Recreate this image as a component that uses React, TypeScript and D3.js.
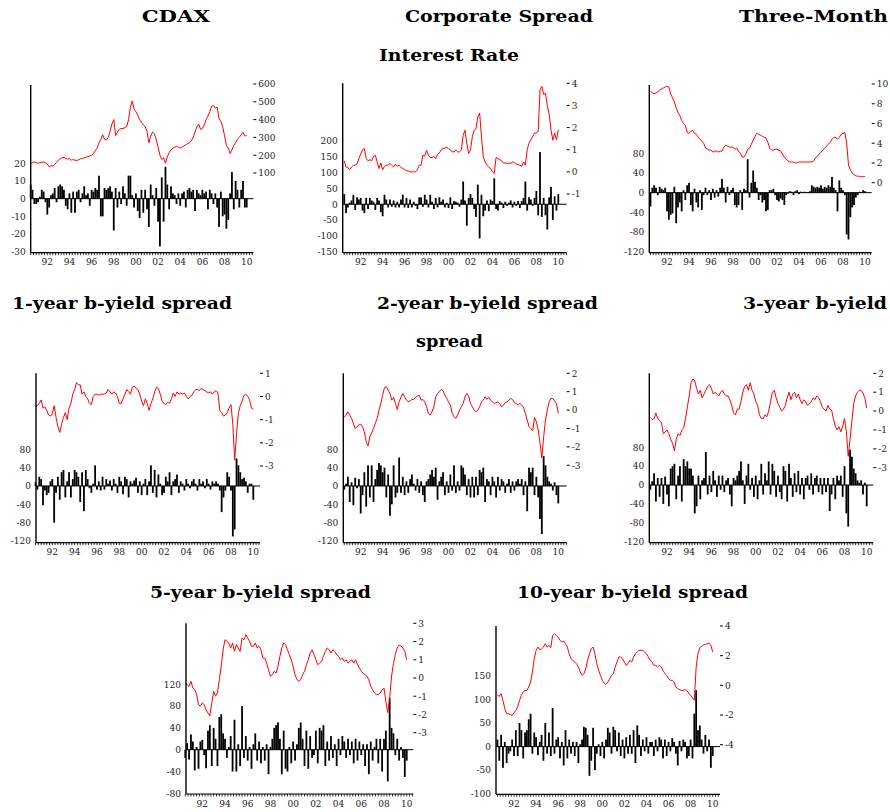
import React from "react";
import * as d3 from "d3";

// time axis: bi-monthly observations starting January 1991
const START_YEAR = 1991;
const OBS_PER_YEAR = 6;
const yearLabels = [1992, 1994, 1996, 1998, 2000, 2002, 2004, 2006, 2008, 2010];

// ---------- CDAX ----------
const cdaxLine = [
  150, 160, 162, 158, 155, 158,
  160, 162, 158, 150, 135, 140,
  140, 148, 160, 172, 180, 185,
  188, 182, 178, 180, 172, 175,
  172, 170, 175, 180, 182, 185,
  188, 192, 195, 200, 210, 225,
  240, 270, 290, 315, 290, 285,
  300, 335, 375, 400, 310, 330,
  345, 350, 350, 355, 360, 400,
  470, 505, 460, 445, 425, 400,
  385, 370, 360, 335, 270, 305,
  330, 320, 290, 245, 200, 175,
  185, 155, 190, 215, 230, 240,
  245, 250, 245, 240, 245, 252,
  258, 265, 270, 280, 300, 330,
  360, 375, 345, 350, 370, 400,
  420, 445, 475, 480, 465, 470,
  405, 390, 360, 310, 255, 240,
  210, 230, 255, 270, 290, 300,
  315, 328, 308, 310,
];
const cdaxBars = [
  8, 5, -3, -3, -2, 1,
  5, 4, -2, -9, -5, 2,
  3, 6, -2, 7, 8, 7,
  5, -4, -6, 3, -8, 4,
  -8, 4, 5, -2, 3, 7,
  2, 3, -4, 5, 4, 6,
  5, 13, -10, -10, 6, 5,
  6, 7, 4, -18, 6, -5,
  4, -3, 7, 3, -4, 13,
  13, 2, -5, 3, -7, -11,
  5, -8, 5, -6, -16, 8,
  2, -4, 6, -13, -27, 12,
  -13, 18, 8, -6, 7, 3,
  2, -3, 3, -4, 3, 4,
  -5, 5, 6, 4, 5, -7,
  5, 3, 2, 5, 3, 4,
  -6, 5, 3, -3, 3, -5,
  -16, 4, -10, -9, -17, -12,
  3, 15, -6, 10, 5, -5,
  5, 10, -5, -5,
];
const cdaxLeftTicks = [-30, -20, -10, 0, 10, 20];
const cdaxRightTicks = [100, 200, 300, 400, 500, 600];

// ---------- Corporate spread ----------
const corpLine = [
  0.5, 0.22, 0.2, 0.1, 0.22, 0.3,
  0.3, 0.35, 0.6, 0.8, 1.0, 1.05,
  0.6, 0.5, 0.55, 0.5, 0.7, 0.75,
  0.45, 0.15, 0.4, 0.1, 0.25, 0.3,
  0.3, 0.38, 0.3, 0.22, 0.35, 0.25,
  0.3, 0.2, 0.15, 0.1, 0.05, 0.05,
  0.0, 0.0, 0.0, 0.0, 0.1, 0.3,
  0.3, 0.75, 0.7, 0.98, 0.75, 0.65,
  0.65, 0.7, 0.6, 0.8, 0.85, 1.0,
  1.05, 1.08, 1.1, 1.05, 1.0, 0.9,
  0.9, 0.98, 0.9, 0.9, 0.98, 1.65,
  1.88, 1.28, 0.83, 0.98, 1.58, 1.88,
  1.95, 2.48, 2.66, 1.58, 0.68, 0.45,
  0.3, 0.22, 0.15, 0.0, -0.08, 0.65,
  0.6, 0.55, 0.5, 0.4, 0.4, 0.38,
  0.4, 0.38, 0.45, 0.42, 0.35, 0.33,
  0.3, 0.25, 0.45, 0.3, 1.0, 1.3,
  1.45, 1.6, 1.75, 1.75, 1.85, 3.7,
  3.86, 3.5, 3.55, 3.0, 2.6, 1.9,
  1.43, 1.75, 1.45, 1.9,
];
const corpBars = [
  32, -28, -10, 5, 12, 30,
  -18, 22, 15, 20, -20, -28,
  20, -15, 20, 12, 8, -18,
  20, 12, -25, -38, 30, 15,
  -10, 15, -8, 12, -10, 8,
  -10, 15, 30, -10, 20, -12,
  15, -10, 8, -5, -15, 22,
  22, -8, 30, 15, -10, 30,
  8, -15, 20, -10, 22, 8,
  15, -10, 5, -12, 22, -15,
  10, 8, 5, -8, 15, 72,
  12, -68, 20, 32, 20, -15,
  -40, 62, -108, 30, -38, -20,
  12, -22, 15, 10, 82, -15,
  -20, 10, 5, -12, 8, -5,
  5, 12, -10, 8, -5, 10,
  -12, 10, 20, 72, -20, 22,
  15, -5, 20, 42, -35, 165,
  -40, 20, -35, -80, 22, 55,
  -50, 25, -20, 32,
];
const corpLeftTicks = [-150, -100, -50, 0, 50, 100, 150, 200];
const corpRightTicks = [-1, 0, 1, 2, 3, 4];

// ---------- Three-month interest rate ----------
const tmLine = [
  9.3, 9.1, 9.0, 9.1, 9.2, 9.4,
  9.5, 9.6, 9.7, 9.8, 9.7, 9.0,
  8.6, 8.2, 7.6, 7.1, 6.8, 6.3,
  6.0, 5.8, 5.1, 5.0, 5.2, 5.3,
  5.0, 4.9, 4.6, 4.4, 4.2, 4.0,
  3.5, 3.4, 3.3, 3.3, 3.1, 3.2,
  3.2, 3.1, 3.2, 3.2, 3.6, 3.8,
  3.7, 3.6, 3.6, 3.6, 3.4, 3.5,
  3.2, 3.0, 2.6, 2.6, 2.9, 3.4,
  3.5, 3.9, 4.3, 4.7, 5.0, 4.9,
  4.8, 4.7, 4.6, 4.5, 4.1, 3.5,
  3.3, 3.3, 3.4, 3.4, 3.3, 3.2,
  2.9, 2.6, 2.4, 2.2, 2.1, 2.1,
  2.1, 2.0, 2.0, 2.1, 2.1, 2.1,
  2.1, 2.1, 2.1, 2.1, 2.1, 2.2,
  2.5, 2.7, 2.9, 3.1, 3.3, 3.5,
  3.7, 3.9, 4.1, 4.4, 4.6, 4.6,
  4.4, 4.6, 4.9, 5.0, 5.1, 4.0,
  1.8, 1.3, 1.0, 0.8, 0.7, 0.65,
  0.65, 0.6, 0.6, 0.65,
];
const tmBars = [
  -28, 10, 15, 10, -5, 12,
  8, 5, 10, -38, -55, -45,
  -42, 12, -62, -30, -20, -38,
  5, -15, 15, 20, -25, -38,
  8, -20, -30, 5, -35, -5,
  10, -5, 5, -15, 8, -10,
  5, -8, 10, 28, 10, -20,
  12, -5, 5, 10, -25, -30,
  -25, 5, -35, 8, 5, 68,
  -10, 20, 45, 22, 10, -15,
  -5, -20, -15, -38, -35, 5,
  5, 8, -5, -15, -18, -12,
  -15, -25, -5, -2, 3, 2,
  -5, 3, 5, -3, 2, 1,
  2, 1, -1, 3, 15, 12,
  10, 12, 10, 15, 8, 12,
  10, 15, 12, 32, 10, 5,
  -38, 25, 10, 5, -5, -85,
  -95, -50, -30, -25, -10, -5,
  2, 1, 5, 3,
];
const tmLeftTicks = [-120, -80, -40, 0, 40, 80];
const tmRightTicks = [0, 2, 4, 6, 8, 10];

// ---------- 1-year b-yield spread ----------
const y1Line = [
  -0.4, -0.4, -0.3, -0.15, -0.5, -0.45,
  -0.6, -0.8, -0.85, -0.75, -0.4, -0.9,
  -1.3, -1.55, -1.2, -0.9, -0.7, -1.0,
  -0.5, -0.3, 0.1, 0.3, 0.6, 0.5,
  0.5, 0.1, 0.2, 0.0, -0.1, -0.3,
  -0.35, 0.0, 0.1, 0.1, 0.05, 0.1,
  0.1, 0.1, 0.15, 0.3, 0.2, 0.1,
  0.2, 0.15, 0.0, -0.3, -0.3, -0.1,
  0.1, 0.3, 0.2, 0.1, 0.4, 0.45,
  0.35, 0.3, 0.1, -0.2, -0.4, -0.1,
  -0.3, -0.6, -0.3, -0.1, 0.2, 0.4,
  0.35, 0.1, -0.2, -0.3, -0.35, -0.25,
  -0.3, -0.1, 0.15, 0.0, 0.2, 0.1,
  0.15, 0.1, 0.15, 0.0, -0.1, 0.0,
  0.05, 0.2, 0.3, 0.3, 0.25, 0.35,
  0.3, 0.25, 0.2, 0.15, 0.2, 0.1,
  0.2, 0.25, 0.15, -0.6, -0.7, -0.85,
  -0.8, -0.7, -0.5, -0.35, -1.2, -2.75,
  -1.6, -0.7, -0.4, -0.2, 0.05, 0.1,
  0.0, -0.15, -0.5, -0.55,
];
const y1Bars = [
  8, -8, 20, 15, -42, -10,
  -20, -15, 10, 15, -80, -15,
  20, -30, 30, 35, -25, 10,
  30, -25, 15, 35, 30, 20,
  -35, 30, -55, 35, 15, -5,
  -15, 5, 45, -8, 10, -10,
  20, -8, 15, 5, 12, -10,
  15, 5, -15, 20, 10, -18,
  20, 15, -25, 10, 5, 12,
  18, -15, 10, -20, 5, 15,
  -20, 10, 45, -15, 35, -25,
  25, 5, -20, -15, 20, 10,
  30, -20, 10, 15, 25, -15,
  10, 5, -10, 15, 5, -5,
  10, 15, 5, -10, 15, 5,
  10, -5, 15, 5, -8, 10,
  5, 10, 5, -10, -57, -25,
  -10, 30, 20, -10, -110, -95,
  60, 45, 30, 15, 18, 10,
  -15, 5, 5, -30,
];
const y1LeftTicks = [-120, -80, -40, 0, 40, 80];
const y1RightTicks = [-3, -2, -1, 0, 1];

// ---------- 2-year b-yield spread ----------
const y2Line = [
  -0.4, -0.27, -0.09, -0.27, -0.45, -0.72,
  -1.0, -0.9, -0.81, -0.76, -0.9, -1.18,
  -1.72, -1.95, -1.45, -1.23, -1.0, -0.72,
  -0.45, 0, 0.36, 0.81, 1.23, 1.27,
  1.08, 0.9, 0.54, 0.69, 0.36, 0.04,
  0.45, 0.69, 0.9, 0.72, 0.54, 0.45,
  0.5, 0.58, 0.58, 0.69, 0.76, 0.81,
  0.54, 0.58, 0.45, 0.18, -0.18, -0.27,
  -0.09, 0.18, 0.72, 0.9, 1.0, 1.12,
  1.05, 0.81, 0.63, 0.45, 0.27, -0.18,
  -0.36, -0.45, -0.27, 0, 0.18, 0.36,
  0.72, 0.9, 0.76, 0.36, 0.18, 0,
  -0.09, 0, 0.18, 0.45, 0.54, 0.72,
  0.58, 0.69, 0.54, 0.45, 0.36, 0.4,
  0.45, 0.36, 0.18, 0.27, 0.4, 0.45,
  0.54, 0.63, 0.58, 0.4, 0.36, 0.27,
  0.36, 0.27, 0.14, -0.18, -0.54, -0.9,
  -1.0, -1.12, -0.4, -0.63, -1.08, -1.8,
  -2.6, -1.45, -0.54, 0, 0.45, 0.63,
  0.63, 0.5, 0.36, -0.18,
];
const y2Bars = [
  -8, 5, 20, -35, 8, -42,
  18, -5, 15, -60, -20, 30,
  -45, 45, -25, 45, -35, 15,
  35, 50, 45, 30, 40, -25,
  25, -65, -40, 45, -25, -15,
  62, -15, 20, -20, 10, -15,
  15, 25, 5, -10, 15, -15,
  10, -20, -35, 10, 15, 25,
  35, 20, 40, -30, 10, 20,
  30, -20, 10, -15, 25, -10,
  45, -15, 10, -10, 45, 40,
  25, -20, 15, -25, 20, -25,
  20, -20, 35, 30, 40, -35,
  15, 10, -20, 20, 10, -25,
  20, -10, 15, 10, -15, 5,
  15, -15, 10, -10, 10, 15,
  5, 15, -20, 10, -55, 40,
  30, 40, -20, 20, -25, -72,
  -105, 65, 45, 20, 10, 5,
  -10, 8, -20, -38,
];
const y2LeftTicks = [-120, -80, -40, 0, 40, 80];
const y2RightTicks = [-3, -2, -1, 0, 1, 2];

// ---------- 3-year b-yield spread ----------
const y3Line = [
  -0.35, -0.45, -0.4, -0.1, -0.4, -0.5,
  -0.6, -1.2, -1.1, -1.0, -1.2, -1.5,
  -1.7, -2.1, -1.5, -1.2, -1.3, -1.0,
  -0.9, -0.4, 0.2, 0.8, 1.5, 1.7,
  1.6, 1.2, 0.9, 1.1, 0.7, 0.9,
  1.1, 1.3, 1.4, 1.2, 0.9, 1.0,
  0.9, 0.8, 1.0, 1.1, 0.9, 0.8,
  0.8, 0.6, 0.3, -0.1, -0.2, 0.1,
  0.1, 0.5, 1.0, 1.3, 1.4, 1.1,
  1.5, 1.1, 0.9, 0.5, 0.3, -0.2,
  -0.4, -0.4, -0.2, -0.3, 0.0, 0.5,
  1.0, 1.1, 0.7, 0.4, 0.2, 0.0,
  0.1, 0.3, 0.7, 1.0, 0.6, 0.9,
  1.0, 0.7, 0.9, 0.6, 0.4, 0.6,
  0.5, 0.3, 0.4, 0.5, 0.7, 0.6,
  0.8, 0.7, 0.5, 0.2, 0.1, 0.0,
  0.3, 0.1, 0.05, -0.4, -0.8, -1.0,
  -0.83, -1.1, -0.8, -0.4, -1.1, -2.4,
  -1.5, -0.5, 0.4, 0.8, 1.0, 1.1,
  1.1, 0.95, 0.7, 0.15,
];
const y3Bars = [
  -10, 8, 25, -35, 15, -25,
  15, -40, 18, -20, -45, 35,
  40, 45, -30, 20, 40, -35,
  55, 40, 50, 35, 35, 20,
  -60, -45, 20, -30, 10, 15,
  70, -20, 20, -15, 30, 10,
  -25, 20, -10, 20, -15, 10,
  15, -20, -45, 15, 10, 20,
  30, 50, 10, -40, 20, 45,
  -10, 15, -25, 20, -30, 10,
  45, -20, 25, 10, 50, -20,
  45, 30, -25, 20, -15, -30,
  40, 30, -35, 45, 15, -25,
  25, -15, 30, -20, 15, -30,
  15, 20, -10, 25, -20, 15,
  20, -15, 15, -20, 15, -15,
  15, -55, -20, 15, -30, 20,
  10, 20, -25, 40, -60, -88,
  75, 60, 35, 25, 10, 5,
  10, -20, 5, -45,
];
const y3LeftTicks = [-120, -80, -40, 0, 40, 80];
const y3RightTicks = [-3, -2, -1, 0, 1, 2];

// ---------- 5-year b-yield spread ----------
const y5Line = [
  -0.31, -0.37, -0.46, -0.18, -0.55, -0.64,
  -0.91, -1.46, -1.55, -1.37, -1.46, -1.74,
  -1.92, -2.07, -1.37, -0.73, -1.0, -0.82,
  -0.09, 0.64, 1.55, 2.1, 2.01, 1.92,
  1.65, 1.92, 1.46, 1.83, 1.65, 1.46,
  2.19, 2.1, 2.38, 2.19, 2.01, 1.74,
  1.74, 1.92, 1.65, 1.74, 1.55, 1.1,
  1.1, 0.82, 0.46, 0.09, 0.18, 0.37,
  0.27, 0.64, 1.19, 1.65, 1.92, 1.83,
  1.55, 1.28, 1.0, 0.64, 0.18, -0.09,
  -0.18, -0.09, 0.18, 0.37, 0.73, 1.0,
  1.37, 1.55, 1.28, 1.0, 0.73, 0.82,
  0.91, 1.19, 1.46, 1.65, 1.55, 1.37,
  1.55, 1.46, 1.28, 1.19, 1.0, 1.1,
  0.91, 1.0, 0.82, 0.91, 1.0, 0.82,
  1.0, 0.73, 0.55, 0.37, 0.27, 0.18,
  0.1, -0.1, -0.45, -0.65, -0.82, -0.9,
  -0.9, -0.82, -0.65, -0.55, -1.3, -1.9,
  -1.1, 0.1, 0.8, 1.3, 1.65, 1.8,
  1.75, 1.65, 1.45, 1.0,
];
const y5Bars = [
  -15, 12, -18, 28, 15, -38,
  5, -35, 15, 18, -10, -34,
  35, 45, -30, 40, 20, -30,
  60, 65, 30, 20, -15, 5,
  25, -40, 55, -40, 10, -30,
  80, -15, 25, -20, 5, -35,
  10, 30, -20, 15, -25, 5,
  -20, 10, -45, 5, 20, 40,
  45, 50, 20, -45, 35, -35,
  -40, 5, -25, 15, -20, 10,
  40, 50, 20, -30, 35, -35,
  25, -15, -10, 35, -25, 40,
  35, 45, -30, 15, -20, 25,
  -15, 10, -30, 20, -10, 25,
  15, -15, 20, -10, 15, -25,
  20, -20, 15, -10, 10, -30,
  10, -45, 15, -20, 5, 20,
  -25, 20, -40, 20, 35, -58,
  95, 40, 30, -10, 20, -20,
  5, -15, -50, -20,
];
const y5LeftTicks = [-80, -40, 0, 40, 80, 120];
const y5RightTicks = [-3, -2, -1, 0, 1, 2, 3];

// ---------- 10-year b-yield spread ----------
const y10Line = [
  -0.67, -0.74, -0.56, -1.01, -1.57, -1.91,
  -1.91, -1.96, -2.02, -1.85, -1.69, -1.46,
  -1.01, -0.67, -0.45, -0.34, -0.34, -0.11,
  0.22, 0.9, 1.8, 2.36, 2.58, 2.4,
  2.47, 2.58, 2.81, 2.58, 2.7, 2.54,
  3.37, 3.48, 3.37, 3.26, 3.03, 2.92,
  2.99, 2.81, 2.58, 2.13, 1.8, 1.69,
  1.57, 1.46, 1.24, 0.9, 0.67, 0.79,
  1.12, 1.69, 2.13, 2.47, 2.58, 2.13,
  1.46, 1.01, 0.67, 0.34, 0.16, 0.07,
  0.22, 0.45, 0.67, 0.79, 1.24, 1.57,
  1.91, 1.91, 1.8, 1.57, 1.35, 1.46,
  1.69, 1.57, 1.91, 2.13, 2.25, 2.36,
  2.36, 2.36, 2.25, 2.13, 1.91, 1.69,
  1.57, 1.35, 1.35, 1.24, 1.35, 1.24,
  1.01, 0.79, 0.67, 0.45, 0.34, 0.34,
  0.22, -0.11, -0.22, -0.29, -0.34, -0.34,
  -0.29, -0.34, -0.56, -0.67, -0.83, -1.01,
  1.24, 2.13, 2.54, 2.63, 2.72, 2.76,
  2.8, 2.85, 2.7, 2.25,
];
const y10Bars = [
  15, -30, 25, -45, 10, -35,
  -15, -10, 15, -20, 35, -20,
  50, 35, -25, 30, 35, 58,
  70, -15, 30, 20, -18, 10,
  25, -30, 50, -15, 30, -20,
  82, -15, 15, 20, -25, 10,
  -40, 35, -25, 15, -15, 10,
  -20, 10, -35, 5, 15, 42,
  40, 25, -62, -30, 40, -50,
  -15, 5, -20, 10, -25, 15,
  40, 30, -15, 42, 35, -10,
  30, -20, 15, -25, 20, -15,
  25, -15, 35, -35, 45, 25,
  -20, 15, -10, 20, -15, 10,
  10, -20, 15, -10, 20, 15,
  -25, 15, -20, 10, -10, 18,
  10, -15, -40, 12, -10, 15,
  10, -25, -20, 15, -25, 70,
  120, 35, 45, 15, -15, 25,
  -10, 15, -45, -20,
];
const y10LeftTicks = [-100, -50, 0, 50, 100, 150];
const y10RightTicks = [-4, -2, 0, 2, 4];

const titles = [
  { text: "CDAX", x: 141.7, w: 68.3, y: 22 },
  { text: "Corporate Spread", x: 405, w: 188, y: 22 },
  { text: "Three-Month", x: 739, w: 149, y: 22 },
  { text: "Interest Rate", x: 379, w: 140, y: 61 },
  { text: "1-year b-yield spread", x: 12, w: 220, y: 309 },
  { text: "2-year b-yield spread", x: 377, w: 221, y: 309 },
  { text: "3-year b-yield", x: 743, w: 144, y: 309 },
  { text: "spread", x: 416, w: 67, y: 347 },
  { text: "5-year b-yield spread", x: 150, w: 221, y: 598 },
  { text: "10-year b-yield spread", x: 517, w: 231, y: 598 },
];

const panels = [
  { line: cdaxLine, bars: cdaxBars, lt: cdaxLeftTicks, rt: cdaxRightTicks,
    p92: 47.3, p10: 246.7, axisL: 30.7, axisR: 253.3, top: 85, bottom: 252.7,
    lDom: [-30, 20], lRange: [251.7, 163.3], rDom: [100, 600], rRange: [173, 84] },
  { line: corpLine, bars: corpBars, lt: corpLeftTicks, rt: corpRightTicks,
    p92: 360.7, p10: 558.3, axisL: 342.7, axisR: 566.7, top: 83.3, bottom: 252.7,
    lDom: [-150, 200], lRange: [251.7, 141], rDom: [-1, 4], rRange: [194, 83.3] },
  { line: tmLine, bars: tmBars, lt: tmLeftTicks, rt: tmRightTicks,
    p92: 667, p10: 865, axisL: 649.3, axisR: 871.7, top: 85, bottom: 252.7,
    lDom: [-120, 80], lRange: [251.7, 153.3], rDom: [0, 10], rRange: [182.7, 84] },
  { line: y1Line, bars: y1Bars, lt: y1LeftTicks, rt: y1RightTicks,
    p92: 52.3, p10: 253.3, axisL: 36, axisR: 260, top: 373.3, bottom: 542.7,
    lDom: [-120, 80], lRange: [541, 449.3], rDom: [-3, 1], rRange: [466, 373.3] },
  { line: y2Line, bars: y2Bars, lt: y2LeftTicks, rt: y2RightTicks,
    p92: 360.7, p10: 558.3, axisL: 343.3, axisR: 566.7, top: 373.3, bottom: 542.7,
    lDom: [-120, 80], lRange: [541, 449.3], rDom: [-3, 2], rRange: [465.3, 373.3] },
  { line: y3Line, bars: y3Bars, lt: y3LeftTicks, rt: y3RightTicks,
    p92: 667, p10: 866.7, axisL: 649.3, axisR: 873.3, top: 373.3, bottom: 542.7,
    lDom: [-120, 80], lRange: [541.7, 447.3], rDom: [-3, 2], rRange: [467.7, 373.3] },
  { line: y5Line, bars: y5Bars, lt: y5LeftTicks, rt: y5RightTicks,
    p92: 202.3, p10: 406.7, axisL: 186, axisR: 413.3, top: 623.3, bottom: 794,
    lDom: [-80, 120], lRange: [793.3, 684.3], rDom: [-3, 3], rRange: [732.7, 623.3] },
  { line: y10Line, bars: y10Bars, lt: y10LeftTicks, rt: y10RightTicks,
    p92: 514, p10: 712.7, axisL: 496, axisR: 720, top: 626, bottom: 794.3,
    lDom: [-100, 150], lRange: [793.7, 676], rDom: [-4, 4], rRange: [744.7, 626] },
];

const FONT = '"DejaVu Serif", "Liberation Serif", serif';

function Panel({ cfg }: { cfg: any }) {
  const x = d3.scaleLinear().domain([1992.5, 2010.5]).range([cfg.p92, cfg.p10]);
  const yl = d3.scaleLinear().domain(cfg.lDom).range(cfg.lRange);
  const yr = d3.scaleLinear().domain(cfg.rDom).range(cfg.rRange);
  const t = (i: number) => START_YEAR + i / OBS_PER_YEAR;
  const linePath = d3
    .line<number>()
    .x((_, i) => x(t(i)))
    .y((d) => yr(d))(cfg.line);
  const quarters = d3
    .range(0, 84)
    .map((k) => START_YEAR + k / 4)
    .filter((q) => x(q) <= cfg.axisR);
  const z = yl(0);
  const bw = 1.8;
  return (
    <g>
      {cfg.bars.map((v: number, i: number) => (
        <rect
          key={i}
          x={x(t(i)) - bw / 2}
          width={bw}
          y={Math.min(yl(v), z)}
          height={Math.abs(yl(v) - z)}
          fill="#000"
        />
      ))}
      <line x1={cfg.axisL} x2={cfg.axisR} y1={z} y2={z} stroke="#000" strokeWidth={1} />
      <path d={linePath || ""} fill="none" stroke="#ff0000" strokeWidth={1} />
      <line x1={cfg.axisL} x2={cfg.axisL} y1={cfg.top} y2={cfg.bottom} stroke="#000" strokeWidth={1.4} />
      {cfg.lt.map((v: number) => (
        <text key={v} x={cfg.axisL - 5} y={yl(v) + 3.3} textAnchor="end" fontSize={9} fontFamily={FONT} fill="#222">
          {String(v)}
        </text>
      ))}
      {cfg.rt.map((v: number) => (
        <g key={v}>
          <line x1={cfg.axisR} x2={cfg.axisR + 3} y1={yr(v)} y2={yr(v)} stroke="#000" strokeWidth={1} />
          <text x={cfg.axisR + 5} y={yr(v) + 3.3} fontSize={9} fontFamily={FONT} fill="#222">
            {String(v)}
          </text>
        </g>
      ))}
      <line x1={cfg.axisL} x2={cfg.axisR} y1={cfg.bottom} y2={cfg.bottom} stroke="#000" strokeWidth={1.2} />
      {quarters.map((q, k) => (
        <line key={k} x1={x(q)} x2={x(q)} y1={cfg.bottom} y2={cfg.bottom + 2.5} stroke="#000" strokeWidth={0.8} />
      ))}
      {yearLabels.map((yv) => (
        <text key={yv} x={x(yv + 0.5)} y={cfg.bottom + 12.5} textAnchor="middle" fontSize={9} fontFamily={FONT} fill="#222">
          {String(yv % 100).padStart(2, "0")}
        </text>
      ))}
    </g>
  );
}

export default function App() {
  return (
    <svg
      width={890}
      height={812}
      style={{ position: "absolute", left: 0, top: 0, background: "#fff" }}
    >
      <rect x={0} y={0} width={890} height={812} fill="#fff" />
      {titles.map((tt) => (
        <text
          key={tt.text}
          x={tt.x}
          y={tt.y}
          textLength={tt.w}
          lengthAdjust="spacingAndGlyphs"
          fontSize={17}
          fontWeight="bold"
          fontFamily={FONT}
          fill="#000"
        >
          {tt.text}
        </text>
      ))}
      {panels.map((p, i) => (
        <Panel key={i} cfg={p} />
      ))}
    </svg>
  );
}
